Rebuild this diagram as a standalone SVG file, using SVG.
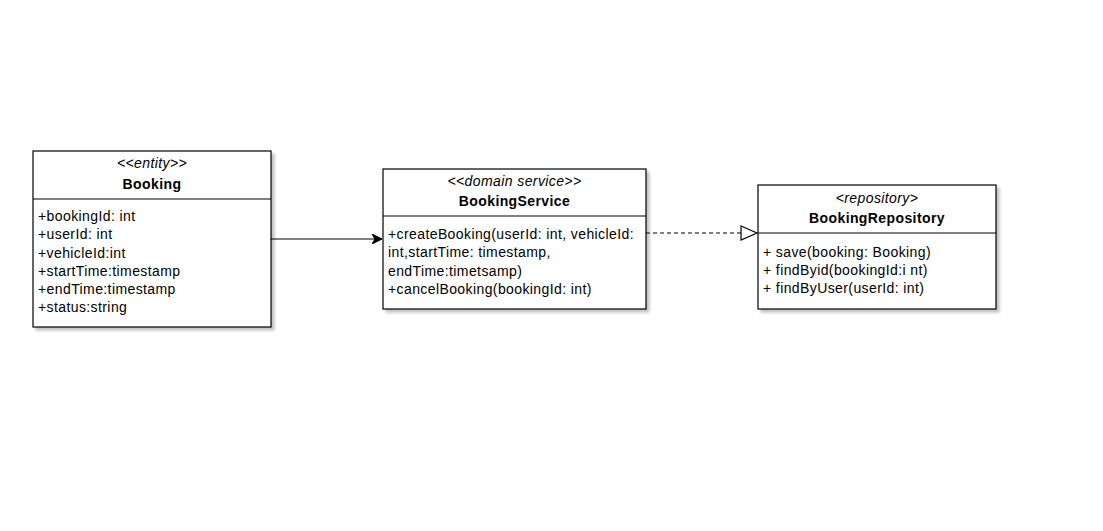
<svg xmlns="http://www.w3.org/2000/svg" width="1103" height="531" viewBox="0 0 1103 531">
<defs>
<style>
.box{fill:#fff;stroke:#000;stroke-width:1.2}
.div{stroke:#000;stroke-width:1.2}
text{font-family:"Liberation Sans",Arial,sans-serif;font-size:14px;letter-spacing:0.4px;fill:#000}
.st{font-style:italic;text-anchor:middle}
.nm{font-weight:bold;text-anchor:middle}
.edge{fill:none;stroke:#000;stroke-width:1.2}
</style>
<filter id="sh" x="-10%" y="-10%" width="130%" height="130%">
<feGaussianBlur in="SourceAlpha" stdDeviation="1.5"/>
<feOffset dx="3" dy="3" result="b"/>
<feComponentTransfer><feFuncA type="linear" slope="0.25"/></feComponentTransfer>
<feMerge><feMergeNode/><feMergeNode in="SourceGraphic"/></feMerge>
</filter>
<marker id="block" markerWidth="12" markerHeight="10" refX="10" refY="5" orient="auto" markerUnits="userSpaceOnUse">
<path d="M0,0 L10,5 L0,10 L3,5 Z" fill="#000" stroke="#000" stroke-width="1"/>
</marker>
<marker id="tri" markerWidth="20" markerHeight="16" refX="17" refY="8" orient="auto" markerUnits="userSpaceOnUse">
<path d="M1,1 L17,8 L1,15 Z" fill="#fff" stroke="#000" stroke-width="1.2"/>
</marker>
</defs>
<rect width="1103" height="531" fill="#fff"/>
<g id="connectors">
<path class="edge" d="M271,239 L382,239" marker-end="url(#block)"/>
<path class="edge" d="M646,233 L757,233" stroke-dasharray="4,3" marker-end="url(#tri)"/>
</g>
<g id="booking">
<rect class="box" x="33" y="151" width="238" height="176" filter="url(#sh)"/>
<line class="div" x1="33" y1="199" x2="271" y2="199"/>
<text class="st" x="152" y="168">&lt;&lt;entity&gt;&gt;</text>
<text class="nm" x="152" y="189">Booking</text>
<text x="38" y="221">+bookingId: int</text>
<text x="38" y="239">+userId: int</text>
<text x="38" y="258">+vehicleId:int</text>
<text x="38" y="276">+startTime:timestamp</text>
<text x="38" y="294">+endTime:timestamp</text>
<text x="38" y="312">+status:string</text>
</g>
<g id="bookingService">
<rect class="box" x="383" y="169" width="263" height="140" filter="url(#sh)"/>
<line class="div" x1="383" y1="216" x2="646" y2="216"/>
<text class="st" x="514.5" y="186">&lt;&lt;domain service&gt;&gt;</text>
<text class="nm" x="514.5" y="206">BookingService</text>
<text x="388" y="239">+createBooking(userId: int, vehicleId:</text>
<text x="388" y="257">int,startTime: timestamp,</text>
<text x="388" y="276">endTime:timetsamp)</text>
<text x="388" y="294">+cancelBooking(bookingId: int)</text>
</g>
<g id="bookingRepository">
<rect class="box" x="758" y="185" width="238" height="124" filter="url(#sh)"/>
<line class="div" x1="758" y1="233" x2="996" y2="233"/>
<text class="st" x="877" y="203">&lt;repository&gt;</text>
<text class="nm" x="877" y="223">BookingRepository</text>
<text x="763" y="257">+ save(booking: Booking)</text>
<text x="763" y="275">+ findByid(bookingId:i nt)</text>
<text x="763" y="293">+ findByUser(userId: int)</text>
</g>
</svg>
